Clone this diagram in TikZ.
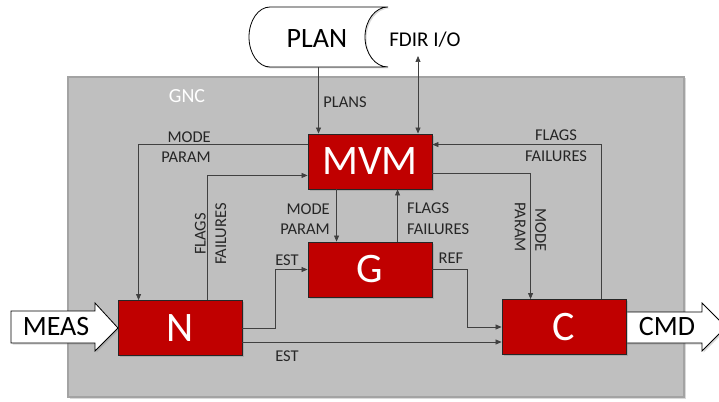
\documentclass[tikz,border=0pt]{standalone}
\usepackage{fontspec}
\setmainfont{Carlito}
\usetikzlibrary{arrows.meta,calc,shadows}
\definecolor{boxred}{HTML}{C00000}
\definecolor{gncgray}{HTML}{BFBFBF}
\definecolor{gncedge}{HTML}{A3A3A3}
\definecolor{wirecol}{HTML}{404040}
\begin{document}
\begin{tikzpicture}[x=1pt,y=-1pt,
  blk/.style={draw=black!85, line width=0.9pt, fill=boxred, text=white,
    minimum width=124pt, minimum height=55pt, inner sep=0pt,
    font=\fontsize{42}{42}\selectfont,
    drop shadow={shadow xshift=1.5pt,shadow yshift=-1.5pt,opacity=0.35}},
  lbl/.style={font=\fontsize{16.5}{20.5}\selectfont, text=black!85, inner sep=0pt},
  big/.style={font=\fontsize{28}{28}\selectfont, inner sep=0pt},
  wire/.style={draw=wirecol, line width=0.7pt, -{Triangle[length=6pt,width=5pt]}},
  blockarrow/.style={fill=white, draw=black, line width=0.8pt,
    drop shadow={shadow xshift=1.5pt,shadow yshift=-1.5pt,opacity=0.3}},
]
\useasboundingbox (0,0) rectangle (719,401);
% GNC frame
\node[draw=gncedge, line width=1.5pt, fill=gncgray, minimum width=616pt,
  minimum height=320pt, inner sep=0pt,
  drop shadow={shadow xshift=1.5pt,shadow yshift=-1.5pt,opacity=0.3}] (gnc) at (376,237) {};
\node[text=white, font=\fontsize{20}{20}\selectfont, inner sep=0pt] (gnclbl) at (187,96) {GNC};

% PLAN stored-data shape
\draw[blockarrow] (270,7) -- (388,7)
  .. controls (375.3,7) and (365,20.4) .. (365,37)
  .. controls (365,53.6) and (375.3,67) .. (388,67)
  -- (270,67)
  .. controls (258.4,67) and (249,53.6) .. (249,37)
  .. controls (249,20.4) and (258.4,7) .. (270,7) -- cycle;
\node[minimum width=139pt, minimum height=60pt, inner sep=0pt] (plan) at (318.5,37) {};
\node[big] (plantxt) at (317,39) {PLAN};
\node[font=\fontsize{21}{21}\selectfont, inner sep=0pt] (fdir) at (425,40) {FDIR I/O};
\coordinate (fdirend) at (418,56);

% block arrows
\draw[blockarrow] (11,311) -- (95,311) -- (95,303) -- (118,328) -- (95,351) -- (95,343) -- (11,343) -- cycle;
\node[big] (meas) at (56,327) {MEAS};
\draw[blockarrow] (620,312) -- (702,312) -- (702,303) -- (726,327) -- (702,351) -- (702,343) -- (620,343) -- cycle;
\node[big] (cmd) at (667,327) {CMD};

% main blocks
\node[blk] (mvm) at (370,161.5) {MVM};
\node[blk] (g) at (370,269.5) {G};
\node[blk] (n) at (180,328) {N};
\node[blk] (c) at (564,327) {C};

% connectors
\draw[wire] (plan.south) -- (plan.south |- mvm.north);
\draw[wire, {Triangle[length=6pt,width=5pt]}-{Triangle[length=6pt,width=5pt]}] (fdirend) -- (fdirend |- mvm.north);
\draw[wire] ($(mvm.north west)+(0,11)$) -| ($(n.north west)+(21,0)$);
\draw[wire] ($(n.north west)+(90,0)$) |- ($(mvm.south west)+(0,-14)$);
\draw[wire] (n.east) -- ++(33,0) |- (g.west);
\draw[wire] ($(n.east)+(0,14)$) -- (c.west |- {$(n.east)+(0,14)$});
\draw[wire] ($(mvm.south west)+(29,0)$) -- ($(g.north west)+(29,0)$);
\draw[wire] ($(g.north west)+(90,0)$) -- ($(mvm.south west)+(90,0)$);
\draw[wire] (g.east) -- ++(35,0) |- (c.west);
\draw[wire] ($(mvm.south east)+(0,-16)$) -| ($(c.north west)+(29,0)$);
\draw[wire] ($(c.north west)+(100,0)$) |- ($(mvm.north east)+(0,11)$);

% labels
\node[lbl] (plansl) at (345,102) {PLANS};
\node[lbl, align=right, anchor=east] (mpl) at (211,147) {MODE\\PARAM};
\node[lbl, align=center, rotate=90] (ffl) at (210.5,234) {FLAGS\\FAILURES};
\node[lbl] (est1) at (287,260) {EST};
\node[lbl] (est2) at (287,356) {EST};
\node[lbl, align=right, anchor=east] (mpm) at (330,219) {MODE\\PARAM};
\node[lbl, align=left, anchor=west] (ffm) at (407,218.5) {FLAGS\\FAILURES};
\node[lbl] (refl) at (451,258) {REF};
\node[lbl, align=right, rotate=-90, anchor=east] (mpr) at (530.5,252) {MODE\\PARAM};
\node[lbl, align=center] (ffr) at (556,145.5) {FLAGS\\FAILURES};
\end{tikzpicture}
\end{document}
